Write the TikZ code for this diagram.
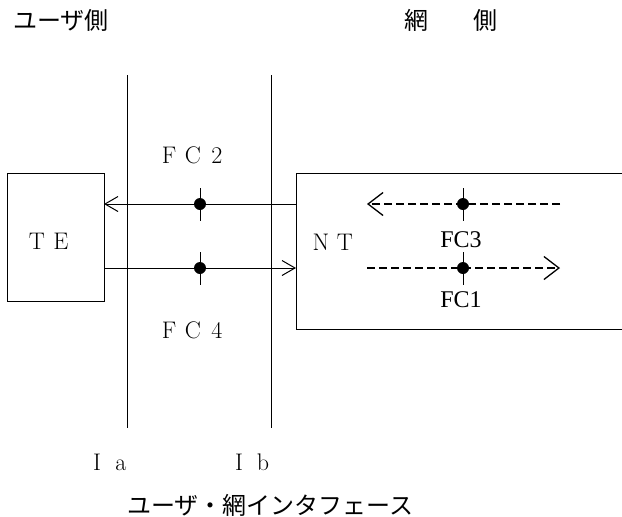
\documentclass[tikz,border=0pt]{standalone}
\usepackage{fontspec}
\newfontfamily\jpfont{Noto Sans CJK JP}
\newfontfamily\timesfont{LiberationSerif-Regular.ttf}
\usetikzlibrary{arrows.meta}
\newcommand{\fw}[1]{\makebox[1em]{#1}}
\tikzset{
  txt/.style={inner sep=0pt, font=\fontsize{24}{28}\selectfont},
  jtxt/.style={inner sep=0pt, font=\jpfont\fontsize{24}{28}\selectfont},
  ttxt/.style={inner sep=0pt, font=\timesfont\fontsize{24}{28}\selectfont},
  ln/.style={line width=1pt},
  solidarr/.style={line width=1pt, -{Straight Barb[length=13pt,width=15pt]}},
  dasharr/.style={line width=1.3pt, dash pattern=on 8pt off 4pt, -{Straight Barb[length=15pt,width=23pt]}},
  dot/.style={circle, fill=black, inner sep=0pt, minimum size=12pt},
  box/.style={draw, line width=1pt, inner sep=0pt}
}
\begin{document}
\begin{tikzpicture}[x=1pt,y=-1pt]
\useasboundingbox (0,0) rectangle (622,517);
% headings
\node[jtxt, anchor=west] (user) at (13,20) {ユーザ側};
\node[jtxt] (net1) at (416,20) {網};
\node[jtxt] (net2) at (485,20) {側};
% interface lines
\coordinate (iatop) at (127,75);
\coordinate (iabot) at (127,428);
\coordinate (ibtop) at (271,75);
\coordinate (ibbot) at (271,428);
\draw[ln] (iatop) -- (iabot);
\draw[ln] (ibtop) -- (ibbot);
% TE box
\node[box, minimum width=97pt, minimum height=128pt] (te) at (55.5,237) {};
\node[txt] (telabel) at (49,241) {\fw{T}\fw{E}};
% NT box (open at right)
\coordinate (nttr) at (622,173);
\coordinate (nttl) at (296,173);
\coordinate (ntbl) at (296,329);
\coordinate (ntbr) at (622,329);
\draw[ln] (nttr) -- (nttl) -- (ntbl) -- (ntbr);
\node[txt] (ntlabel) at (333,242) {\fw{N}\fw{T}};
% solid connections
\coordinate (teU) at (104,204);
\coordinate (ntU) at (296,204);
\coordinate (teL) at (104,268);
\coordinate (ntL) at (296,268);
\draw[solidarr] (ntU) -- (teU);
\draw[solidarr] (teL) -- (ntL);
\node[dot] (d2) at (200,204) {};
\node[dot] (d4) at (200,268) {};
\draw[ln] (200,188) -- (200,221);
\draw[ln] (200,252) -- (200,285);
\node[txt] (fc2) at (193,155) {\fw{F}\fw{C}\fw{2}};
\node[txt] (fc4) at (193,330) {\fw{F}\fw{C}\fw{4}};
% dashed connections inside NT
\coordinate (d3s) at (560,204);
\coordinate (d3e) at (367,204);
\coordinate (d1s) at (367,268);
\coordinate (d1e) at (560,268);
\draw[dasharr] (d3s) -- (d3e);
\draw[dasharr] (d1s) -- (d1e);
\node[dot] (d3) at (463,204) {};
\node[dot] (d1) at (463,268) {};
\draw[ln] (463,188) -- (463,221);
\draw[ln] (463,252) -- (463,285);
\node[ttxt] (fc3) at (461,240) {FC3};
\node[ttxt] (fc1) at (461,300) {FC1};
% reference points
\node[txt] (ia) at (109,462) {\fw{I}\fw{a}};
\node[txt] (ib) at (251,462) {\fw{I}\fw{b}};
\node[jtxt, anchor=west] (uni) at (127,505) {ユーザ・網インタフェース};
\end{tikzpicture}
\end{document}
